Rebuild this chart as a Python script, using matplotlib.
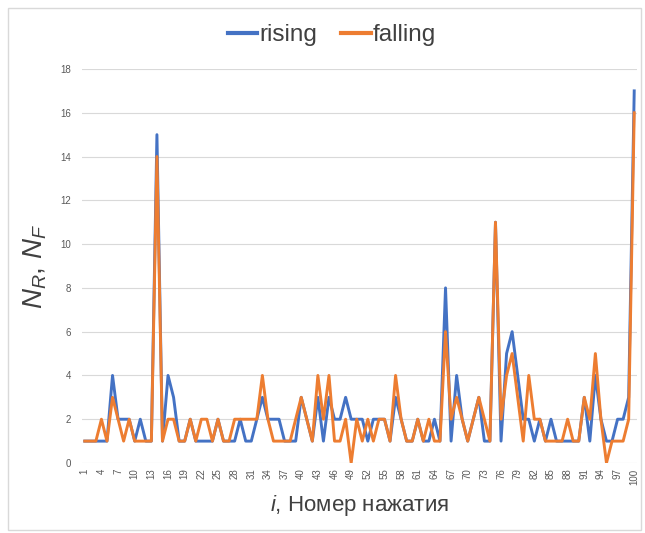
import matplotlib
matplotlib.use("Agg")
import matplotlib.pyplot as plt
from matplotlib.patches import Rectangle

plt.rcParams['font.family'] = ['Liberation Sans', 'DejaVu Sans']
plt.rcParams['mathtext.fontset'] = 'custom'
plt.rcParams['mathtext.rm'] = 'Liberation Sans'
plt.rcParams['mathtext.it'] = 'Liberation Sans:italic'
plt.rcParams['mathtext.sf'] = 'Liberation Sans'

# press number i = 1..100
presses = list(range(1, 101))

rising = [1, 1, 1, 1, 1, 4, 2, 2, 2, 1,
          2, 1, 1, 15, 1, 4, 3, 1, 1, 2,
          1, 1, 1, 1, 2, 1, 1, 1, 2, 1,
          1, 2, 3, 2, 2, 2, 1, 1, 1, 3,
          2, 1, 3, 1, 3, 2, 2, 3, 2, 2,
          2, 1, 2, 2, 2, 1, 3, 2, 1, 1,
          2, 1, 1, 2, 1, 8, 1, 4, 2, 1,
          2, 3, 1, 1, 11, 1, 5, 6, 4, 2,
          2, 1, 2, 1, 2, 1, 1, 1, 1, 1,
          3, 1, 4, 2, 1, 1, 2, 2, 3, 17]

falling = [1, 1, 1, 2, 1, 3, 2, 1, 2, 1,
           1, 1, 1, 14, 1, 2, 2, 1, 1, 2,
           1, 2, 2, 1, 2, 1, 1, 2, 2, 2,
           2, 2, 4, 2, 1, 1, 1, 1, 2, 3,
           2, 1, 4, 2, 4, 1, 1, 2, 0, 2,
           1, 2, 1, 2, 2, 1, 4, 2, 1, 1,
           2, 1, 2, 1, 1, 6, 2, 3, 2, 1,
           2, 3, 2, 1, 11, 2, 4, 5, 3, 1,
           4, 2, 2, 1, 1, 1, 1, 2, 1, 1,
           3, 2, 5, 2, 0, 1, 1, 1, 2, 16]

xtick_vals = list(range(1, 101, 3))
ytick_vals = list(range(0, 19, 2))

fig = plt.figure(figsize=(6.45, 5.33), dpi=100)
ax = fig.add_axes([82/645, 1 - 463/533, (637 - 82)/645, (463 - 69)/533])

ax.plot(presses, rising, color='#4472C4', lw=2.1, label='rising', solid_joinstyle='round')
ax.plot(presses, falling, color='#ED7D31', lw=2.1, label='falling', solid_joinstyle='round')

ax.set_xlim(0.5, 100.5)
ax.set_ylim(0, 18)
ax.set_yticks(ytick_vals)
ax.set_xticks(xtick_vals)
ax.set_xticklabels([str(v) for v in xtick_vals], rotation=90)
ax.tick_params(axis='both', length=0, colors='#595959', labelsize=7)
ax.tick_params(axis='x', labelsize=7, pad=4)
ax.tick_params(axis='y', pad=8)
ax.grid(axis='y', color='#D9D9D9', lw=0.8)
ax.set_axisbelow(True)
for s in ax.spines.values():
    s.set_visible(False)

ax.set_xlabel(r'$i$, Номер нажатия', fontsize=16, color='#404040', labelpad=6)
ax.set_ylabel(r'$N_R$, $N_F$', fontsize=20, color='#404040', labelpad=8)

leg = fig.legend(loc='center', bbox_to_anchor=(332/645, 1 - 35/533), ncol=2, frameon=False,
                 fontsize=17.5, handlelength=1.2, handletextpad=0.1, columnspacing=1.0,
                 labelcolor='#404040')
for h in leg.legend_handles:
    h.set_linewidth(3)

fig.patches.append(Rectangle((8/645, 1 - 530/533), (641 - 8)/645, (530 - 8)/533,
                             transform=fig.transFigure, fill=False,
                             edgecolor='#D9D9D9', lw=1))

fig.savefig('out.png', dpi=100)
